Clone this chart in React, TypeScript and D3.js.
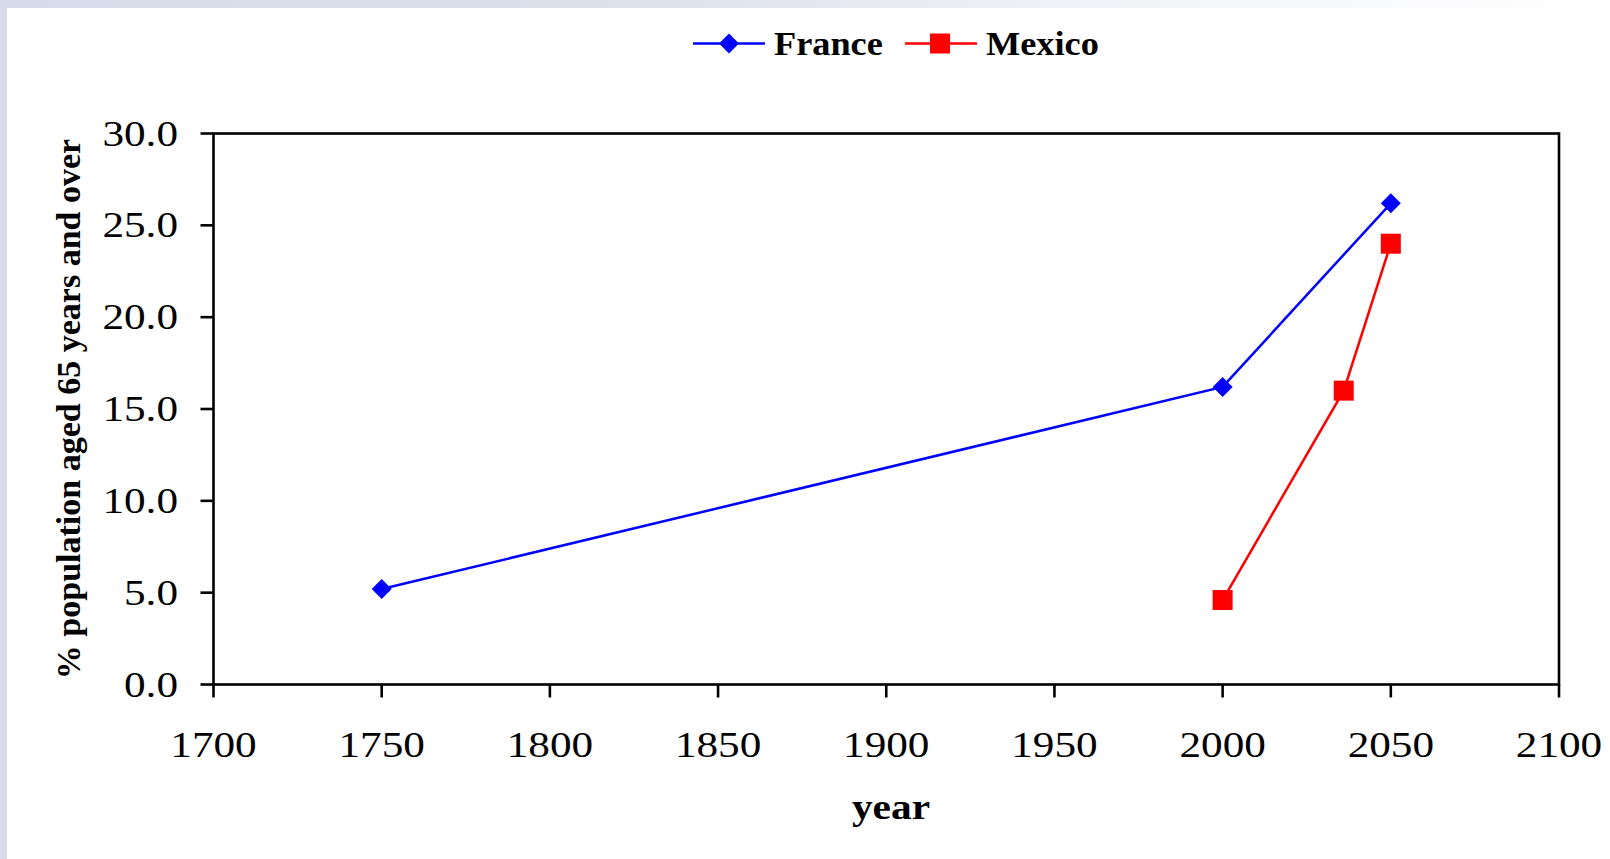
import React from "react";
import * as d3 from "d3";

const franceYears = [1750, 2000, 2050];
const franceValues = [5.2, 16.2, 26.2];
const mexicoYears = [2000, 2036, 2050];
const mexicoValues = [4.6, 16.0, 24.0];
const xTicks = [1700, 1750, 1800, 1850, 1900, 1950, 2000, 2050, 2100];
const yTicks = [0, 5, 10, 15, 20, 25, 30];
const seriesNames = ["France", "Mexico"];
const xTitle = "year";
const yTitle = "% population aged 65 years and over";

const W = 1610;
const H = 859;
const L = 213.5, R = 1559, T = 133.5, B = 684.5;
const FONT = "'Liberation Serif', 'Times New Roman', serif";
const SX = 1.2;

export default function App() {
  const x = d3.scaleLinear().domain([1700, 2100]).range([L, R]);
  const y = d3.scaleLinear().domain([0, 30]).range([B, T]);
  const fmt = d3.format(".1f");
  const line = d3.line<[number, number]>().x((d) => x(d[0])).y((d) => y(d[1]));
  const france: [number, number][] = franceYears.map((yr, i) => [yr, franceValues[i]]);
  const mexico: [number, number][] = mexicoYears.map((yr, i) => [yr, mexicoValues[i]]);
  const diamond = (cx: number, cy: number, r: number) =>
    `M${cx},${cy - r}L${cx + r},${cy}L${cx},${cy + r}L${cx - r},${cy}Z`;

  return (
    <svg width={W} height={H} style={{ position: "absolute", left: 0, top: 0 }}>
      <defs>
        <linearGradient id="bgTop" x1="0" x2="1" y1="0" y2="0">
          <stop offset="0" stopColor="#d6dbe9" />
          <stop offset="0.4" stopColor="#dde1ec" />
          <stop offset="0.7" stopColor="#f3f4f8" />
          <stop offset="1" stopColor="#ffffff" />
        </linearGradient>
      </defs>
      <rect x={0} y={0} width={W} height={H} fill="#ffffff" />
      <rect x={0} y={0} width={W} height={8} fill="url(#bgTop)" />
      <rect x={0} y={0} width={7} height={H} fill="#d7dbe9" />

      {/* plot frame */}
      <rect x={L} y={T} width={R - L} height={B - T} fill="none" stroke="#000" strokeWidth={2.6} />

      {/* y ticks */}
      {yTicks.map((t) => (
        <g key={"y" + t}>
          <line x1={L - 13} x2={L} y1={y(t)} y2={y(t)} stroke="#000" strokeWidth={2.6} />
          <text
            transform={`translate(178,${y(t) + 12}) scale(${SX},1)`}
            textAnchor="end"
            fontFamily={FONT}
            fontSize={36}
            fill="#000"
          >
            {fmt(t)}
          </text>
        </g>
      ))}

      {/* x ticks */}
      {xTicks.map((t) => (
        <g key={"x" + t}>
          <line x1={x(t)} x2={x(t)} y1={B} y2={B + 13} stroke="#000" strokeWidth={2.6} />
          <text
            transform={`translate(${x(t)},757) scale(${SX},1)`}
            textAnchor="middle"
            fontFamily={FONT}
            fontSize={36}
            fill="#000"
          >
            {t}
          </text>
        </g>
      ))}

      {/* axis titles */}
      <text
        transform={`translate(891,819) scale(1.15,1)`}
        textAnchor="middle"
        fontFamily={FONT}
        fontSize={36}
        fontWeight="bold"
        fill="#000"
      >
        {xTitle}
      </text>
      <text
        transform={`translate(80,${(T + B) / 2}) rotate(-90)`}
        textAnchor="middle"
        fontFamily={FONT}
        fontSize={34}
        fontWeight="bold"
        fill="#000"
      >
        {yTitle}
      </text>

      {/* series */}
      <path d={line(france) || ""} fill="none" stroke="#0000ff" strokeWidth={2.5} />
      <path d={line(mexico) || ""} fill="none" stroke="#ff0000" strokeWidth={2.5} />
      {france.map((d, i) => (
        <path key={"f" + i} d={diamond(x(d[0]), y(d[1]), 10)} fill="#0000ff" />
      ))}
      {mexico.map((d, i) => (
        <rect key={"m" + i} x={x(d[0]) - 10} y={y(d[1]) - 10} width={20} height={20} fill="#ff0000" />
      ))}

      {/* legend */}
      <g>
        <line x1={693} x2={765} y1={43.5} y2={43.5} stroke="#0000ff" strokeWidth={2.5} />
        <path d={diamond(729, 43.5, 10)} fill="#0000ff" />
        <text transform="translate(774,55) scale(1.1,1)" fontFamily={FONT} fontSize={33} fontWeight="bold" fill="#000">
          {seriesNames[0]}
        </text>
        <line x1={905} x2={977} y1={43.5} y2={43.5} stroke="#ff0000" strokeWidth={2.5} />
        <rect x={930} y={33.5} width={20} height={20} fill="#ff0000" />
        <text transform="translate(986,55) scale(1.1,1)" fontFamily={FONT} fontSize={33} fontWeight="bold" fill="#000">
          {seriesNames[1]}
        </text>
      </g>
    </svg>
  );
}
